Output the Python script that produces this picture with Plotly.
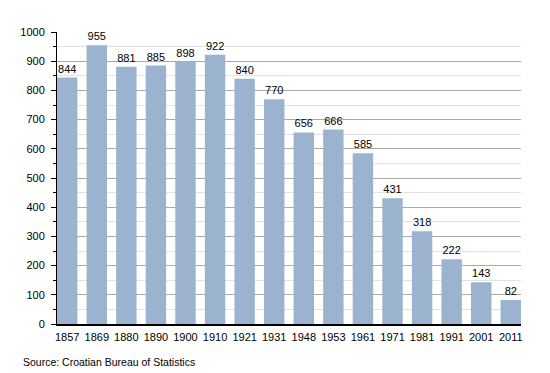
import plotly.graph_objects as go

years = ["1857", "1869", "1880", "1890", "1900", "1910", "1921", "1931",
         "1948", "1953", "1961", "1971", "1981", "1991", "2001", "2011"]
population = [844, 955, 881, 885, 898, 922, 840, 770, 656, 666, 585, 431, 318, 222, 143, 82]

bargap = 0.31
fig = go.Figure(go.Bar(
    x=years, y=population,
    marker=dict(color="#9bb3ce", line=dict(width=0)),
    text=[str(v) for v in population],
    textposition="outside",
    textfont=dict(family="Liberation Sans, Arial", size=11, color="#000"),
    cliponaxis=False,
))

# the page body adds an 8px margin, so the figure is sized to fit inside the window
fig.update_layout(
    width=542, height=365,
    margin=dict(l=43, r=29, t=24, b=49),
    paper_bgcolor="white", plot_bgcolor="white",
    bargap=bargap,
    showlegend=False,
    font=dict(family="Liberation Sans, Arial", size=11, color="#000"),
    annotations=[dict(
        text="Source: Croatian Bureau of Statistics",
        xref="paper", yref="paper", x=-36 / 470, y=-30 / 292,
        xanchor="left", yanchor="top", showarrow=False,
        font=dict(family="Liberation Sans, Arial", size=10.5, color="#000"),
    )],
)
fig.update_xaxes(
    type="category",
    range=[-(1 - bargap) / 2, len(years) - 1 + (1 - bargap) / 2],
    showline=True, linecolor="#000", linewidth=1.5,
    ticks="", showgrid=False,
    ticklabelstandoff=2,
    tickfont=dict(size=11, color="#000"),
)
fig.update_yaxes(
    range=[0, 1000], dtick=100,
    showline=True, linecolor="#000", linewidth=1,
    ticks="outside", ticklen=5, tickcolor="#000",
    showgrid=True, gridcolor="#aaaaaa", gridwidth=1,
    minor=dict(dtick=50, showgrid=True, gridcolor="#e2e2e2",
               ticks="outside", ticklen=3, tickcolor="#000"),
    zeroline=False,
    ticklabelstandoff=4,
    tickfont=dict(size=11, color="#000"),
)

fig.write_html("out.html")
